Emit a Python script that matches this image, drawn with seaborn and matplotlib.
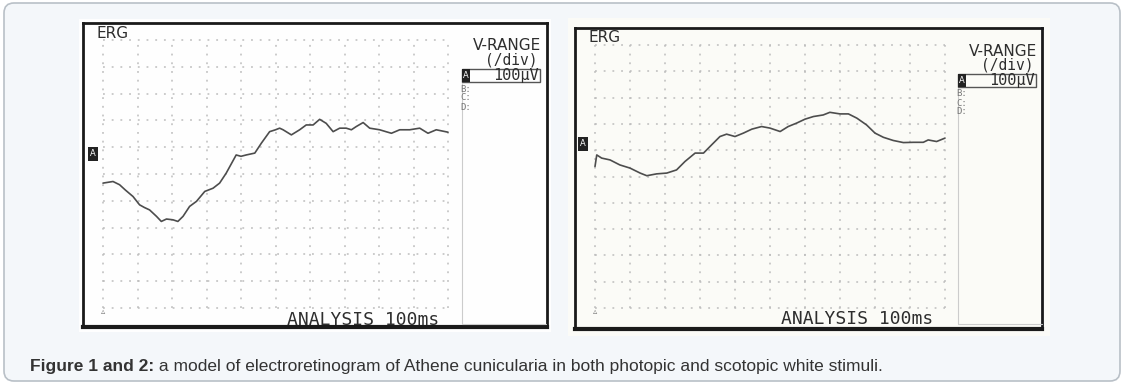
"""ERG traces (photopic / scotopic) redrawn as oscilloscope panels."""

import matplotlib

matplotlib.use("Agg")
import matplotlib.pyplot as plt
import numpy as np
import pandas as pd
import seaborn as sns
from matplotlib.patches import FancyBboxPatch, Rectangle

# --- data (time in ms, amplitude in uV) ---
photopic_ms = [0, 2.9, 4.8, 6.5, 8.7, 10.6, 12.0, 13.5, 15.5, 16.9, 18.4, 20.3,
               21.7, 23.2, 25.1, 27.1, 29.5, 31.9, 33.8, 35.7, 38.6, 40.0, 41.5,
               44.0, 45.9, 48.3, 50.0, 51.2, 52.2, 54.6, 57.0, 58.9, 60.9, 62.8,
               64.7, 66.7, 68.6, 70.5, 72.0, 73.4, 75.4, 77.3, 80.2, 82.0, 83.6,
               86.0, 88.9, 91.8, 94.2, 96.6, 100]
photopic_uv = [-34, -28, -40, -60, -84, -115, -125, -134, -158, -177, -168, -171,
               -177, -158, -121, -102, -65, -53, -34, 3, 71, 66, 71,
               78, 115, 158, 165, 171, 165, 146, 165, 183, 183, 204,
               189, 158, 171, 171, 165, 177, 192, 171, 165, 158, 152,
               165, 165, 171, 152, 165, 156]

scotopic_ms = [0, 0.5, 1.9, 4.3, 7.1, 10.0, 12.9, 14.8, 17.6, 20.5, 23.3, 25.7,
               28.6, 31.0, 33.3, 35.7, 37.6, 40.0, 42.4, 44.8, 47.6, 50.0, 52.9,
               55.2, 57.6, 60.0, 62.4, 65.2, 67.1, 70.0, 72.4, 74.8, 77.6, 80.0,
               82.4, 85.2, 88.1, 91.0, 93.8, 95.2, 97.6, 100]
scotopic_uv = [38, 82, 70, 63, 44, 32, 13, 3, 10, 13, 25, 57,
               89, 89, 120, 152, 161, 152, 165, 180, 190, 184, 171,
               190, 203, 218, 228, 234, 244, 238, 238, 222, 196, 165,
               149, 137, 129, 130, 130, 139, 133, 146]

time_ticks = np.arange(0, 101, 10)       # 10 divisions
volt_ticks = np.arange(-500, 501, 100)   # 100 uV / div

caption_bold = "Figure 1 and 2:"
caption_rest = " a model of electroretinogram of Athene cunicularia in both photopic and scotopic white stimuli."

W, H = 1124, 391
INK = "#2e2e2e"

sns.set_style("white")
plt.rcParams["font.family"] = ["DejaVu Sans"]

fig = plt.figure(figsize=(W / 100, H / 100), dpi=100)

# background layer in pixel coordinates
bg = fig.add_axes([0, 0, 1, 1], zorder=0)
bg.set_xlim(0, W)
bg.set_ylim(H, 0)
bg.axis("off")
bg.add_patch(FancyBboxPatch((4, 3), W - 8, H - 13, boxstyle="round,pad=0,rounding_size=10",
                            fc="#f4f7fa", ec="#b9c0c7", lw=1.2))
bg.add_patch(Rectangle((79, 19), 472, 313, fc="#fefefe", ec="none"))
bg.add_patch(Rectangle((568, 18), 482, 318, fc="#fbfbf7", ec="none"))


def panel(frame, grid, t, v, face):
    """frame/grid are pixel boxes (x0, y0, x1, y1); grid maps to 0-100 ms, -500..500 uV."""
    fx0, fy0, fx1, fy1 = frame
    gx0, gy0, gx1, gy1 = grid
    ax = fig.add_axes([fx0 / W, 1 - fy1 / H, (fx1 - fx0) / W, (fy1 - fy0) / H], zorder=1)
    sx = 100 / (gx1 - gx0)
    sy = 1000 / (gy1 - gy0)
    ax.set_xlim(-(gx0 - fx0) * sx, 100 + (fx1 - gx1) * sx)
    ax.set_ylim(-500 - (fy1 - gy1) * sy, 500 + (gy0 - fy0) * sy)
    ax.set_facecolor(face)
    ax.vlines(time_ticks, -500, 500, colors="#bdbdbd", linestyles=(0, (1.2, 4.5)), lw=1.1)
    ax.hlines(volt_ticks, 0, 100, colors="#bdbdbd", linestyles=(0, (1.2, 4.5)), lw=1.1)
    df = pd.DataFrame({"ms": t, "uV": v})
    sns.lineplot(data=df, x="ms", y="uV", ax=ax, color="#4d4d4d", lw=1.2, sort=False)
    ax.set_xticks([])
    ax.set_yticks([])
    ax.set_xlabel("")
    ax.set_ylabel("")
    for side, sp in ax.spines.items():
        sp.set_visible(True)
        sp.set_color("#1a1a1a")
        sp.set_linewidth(3.0 if side == "bottom" else 2.0)
    return ax


panel((83, 23, 547, 327), (103, 40, 448, 308), photopic_ms, photopic_uv, "#fefefe")
panel((575, 28, 1042, 329), (595, 45, 945, 308), scotopic_ms, scotopic_uv, "#fbfbf7")

# foreground layer: oscilloscope annotations and caption
fg = fig.add_axes([0, 0, 1, 1], zorder=3)
fg.set_xlim(0, W)
fg.set_ylim(H, 0)
fg.axis("off")
fg.patch.set_alpha(0)

mono = "DejaVu Sans Mono"
for (x_erg, y_erg, x_sep, y_vr, x_an, y_an, ground, tri) in [
    (97, 33, 462, 46, 287, 320, (88, 147), (103, 311)),
    (589, 38, 958, 51, 781, 319, (578, 137), (595, 311)),
]:
    fg.text(x_erg, y_erg, "ERG", fontsize=11, color=INK, va="center", ha="left")
    fg.text(x_sep + 79, y_vr, "V-RANGE", fontsize=11, color=INK, va="center", ha="right")
    fg.text(x_sep + 76, y_vr + 14, "(/div)", family=mono, fontsize=10.5, color=INK,
            va="center", ha="right")
    fg.add_patch(Rectangle((x_sep, y_vr + 23), 78, 13, fc="none", ec="#555555", lw=1))
    fg.add_patch(Rectangle((x_sep, y_vr + 23), 8, 13, fc="#222222", ec="none"))
    fg.text(x_sep + 4, y_vr + 29.5, "A", fontsize=6, color="white", va="center", ha="center")
    fg.text(x_sep + 77, y_vr + 29.5, "100µV", family=mono, fontsize=11, color=INK,
            va="center", ha="right")
    for k, lab in enumerate(["B:", "C:", "D:"]):
        fg.text(x_sep + 4, y_vr + 43 + k * 9, lab, family=mono, fontsize=6.5, color="#777777",
                va="center", ha="center")
    fg.plot([x_sep, x_sep], [y_vr + 37, 324], color="#cccccc", lw=0.8)
    fg.plot([x_sep, x_sep + 84], [324, 324], color="#cccccc", lw=0.8)
    fg.text(x_an, y_an, "ANALYSIS 100ms", family=mono, fontsize=13, color=INK,
            va="center", ha="left")
    fg.add_patch(Rectangle(ground, 10, 14, fc="#222222", ec="none"))
    fg.text(ground[0] + 5, ground[1] + 7, "A", fontsize=6, color="white",
            va="center", ha="center")
    fg.text(tri[0], tri[1], "▵", fontsize=6, color="#777777", va="center", ha="center")

cap = fg.text(30, 366, caption_bold, fontsize=12.5, fontweight="bold", color="#333333",
              family=["Liberation Sans", "DejaVu Sans"], va="center", ha="left")
fg.annotate(caption_rest, xy=(1, 0.5), xycoords=cap, va="center", ha="left",
            fontsize=12.5, color="#333333", family=["Liberation Sans", "DejaVu Sans"])

fig.savefig("out.png", dpi=100)
plt.close(fig)
print("Saved out.png")
